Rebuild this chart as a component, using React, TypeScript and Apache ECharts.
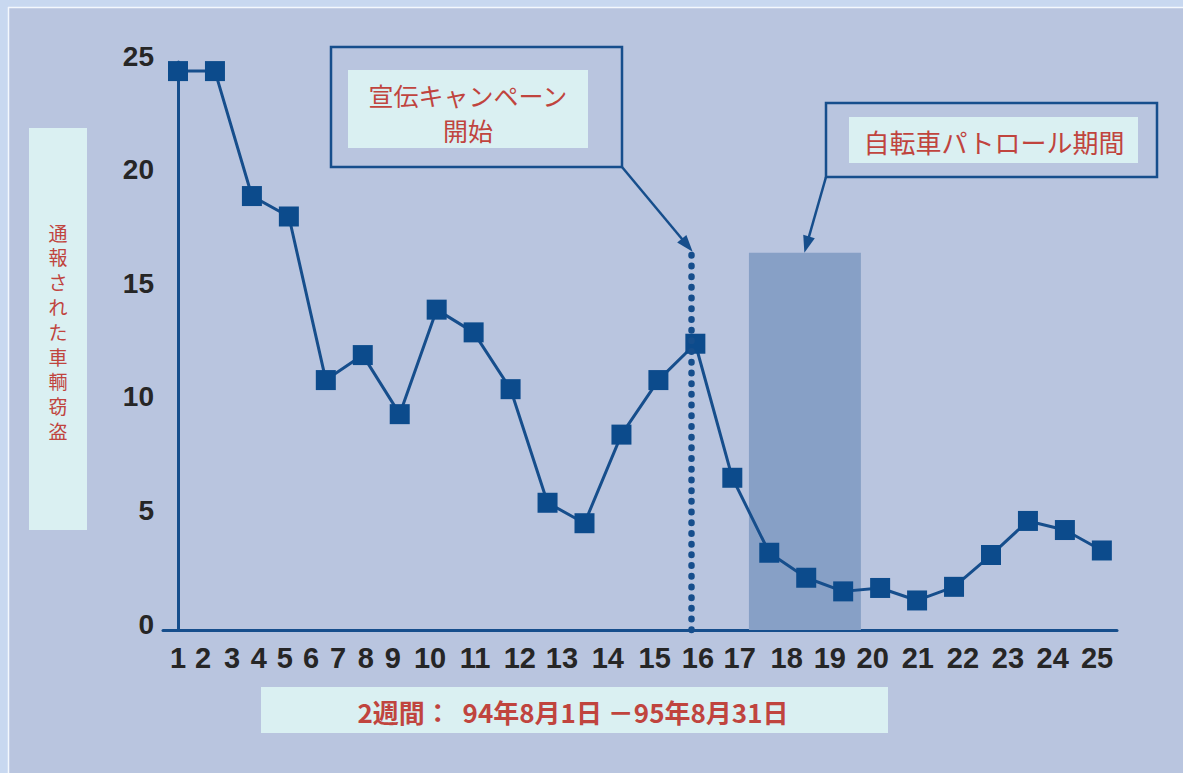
import React, { useEffect, useRef } from "react";
import * as echarts from "echarts";

// two-week periods (point index), reported vehicle thefts
const periodIndex = [0, 1, 2, 3, 4, 5, 6, 7, 8, 9, 10, 11, 12, 13, 14, 15, 16, 17, 18, 19, 20, 21, 22, 23, 24, 25];
const thefts = [24.6, 24.6, 19.1, 18.2, 11.0, 12.1, 9.5, 14.1, 13.1, 10.6, 5.6, 4.7, 8.6, 11.0, 12.6, 6.7, 3.4, 2.3, 1.7, 1.85, 1.3, 1.9, 3.3, 4.8, 4.4, 3.5];

// x tick labels and where they sit on the period scale
const xTickLabels = ["1", "2", "3", "4", "5", "6", "7", "8", "9", "10", "11", "12", "13", "14", "15", "16", "17", "18", "19", "20", "21", "22", "23", "24", "25"];
const xTickAt = [0, 0.68, 1.46, 2.19, 2.89, 3.6, 4.33, 5.08, 5.81, 6.82, 8.04, 9.25, 10.39, 11.63, 12.9, 14.07, 15.2, 16.47, 17.64, 18.8, 20.02, 21.24, 22.46, 23.67, 24.87];
const yTicks = [0, 5, 10, 15, 20, 25];

// annotations on the period scale
const campaignStart = 13.9;
const patrolRange = [15.45, 18.48];
const patrolArrowAt = 16.95;
const annotationTop = 16.6;

const title = "通報された車輌窃盗";
const xTitle = "2週間：  94年8月1日 －95年8月31日";
const campaignLabel = "宣伝キャンペーン\n開始";
const patrolLabel = "自転車パトロール期間";

const DARK = "#164e8c";
const RED = "#c0443e";
const PALE = "#daf0f2";
const JP = "'Noto Sans CJK JP', 'Noto Sans', sans-serif";
const NUM = "'Liberation Sans Narrow', 'Liberation Sans', Arial, sans-serif";

function arrow(x1: number, y1: number, x2: number, y2: number) {
  const dx = x2 - x1;
  const dy = y2 - y1;
  const L = Math.hypot(dx, dy);
  const ux = dx / L;
  const uy = dy / L;
  const hl = 17;
  const hw = 6;
  const bx = x2 - ux * hl;
  const by = y2 - uy * hl;
  const px = -uy;
  const py = ux;
  return [
    { type: "line", z: 20, shape: { x1, y1, x2: bx + ux * 2, y2: by + uy * 2 }, style: { stroke: DARK, lineWidth: 2.5 } },
    {
      type: "polygon",
      z: 20,
      shape: { points: [[x2, y2], [bx + px * hw, by + py * hw], [bx - px * hw, by - py * hw]] },
      style: { fill: DARK },
    },
  ];
}

export default function App() {
  const ref = useRef<HTMLDivElement>(null);

  useEffect(() => {
    document.body.style.margin = "0";
    const chart = echarts.init(ref.current!, null, { renderer: "svg" });
    const option: any = {
      animation: false,
      backgroundColor: "#b9c5df",
      grid: { left: 163, right: 66, top: 62, bottom: 143 },
      xAxis: {
        type: "value",
        min: -0.406,
        max: 25.41,
        splitLine: { show: false },
        axisTick: { show: false },
        axisLine: { show: true, onZero: false, lineStyle: { color: DARK, width: 3 } },
        axisLabel: {
          customValues: xTickAt,
          margin: 13,
          color: "#262626",
          fontFamily: NUM,
          fontWeight: "bold",
          fontSize: 29,
          formatter: (v: number) => {
            let best = 0;
            for (let i = 0; i < xTickAt.length; i++) {
              if (Math.abs(xTickAt[i] - v) < Math.abs(xTickAt[best] - v)) best = i;
            }
            return xTickLabels[best];
          },
        },
      },
      yAxis: {
        type: "value",
        min: yTicks[0],
        max: yTicks[yTicks.length - 1],
        interval: 5,
        splitLine: { show: false },
        axisTick: { show: false },
        axisLine: { show: true, lineStyle: { color: DARK, width: 3 } },
        axisLabel: {
          margin: 9,
          color: "#262626",
          fontFamily: NUM,
          fontWeight: "bold",
          fontSize: 28,
          verticalAlign: "bottom",
          lineHeight: 12,
        },
      },
      series: [
        {
          type: "line",
          z: 1,
          data: [],
          silent: true,
          markArea: {
            silent: true,
            itemStyle: { color: "#87a0c6", opacity: 1 },
            data: [[{ coord: [patrolRange[0], 0] }, { coord: [patrolRange[1], annotationTop] }]],
          },
          markLine: {
            silent: true,
            symbol: "none",
            label: { show: false },
            lineStyle: { color: DARK, width: 6.5, type: [0.5, 10.2], cap: "round" },
            data: [[{ coord: [campaignStart, 0] }, { coord: [campaignStart, annotationTop] }]],
          },
        },
        {
          type: "line",
          z: 3,
          data: periodIndex.map((p, i) => [p, thefts[i]]),
          symbol: "rect",
          symbolSize: 20,
          lineStyle: { color: DARK, width: 3 },
          itemStyle: { color: "#0c4b8c" },
        },
      ],
    };
    chart.setOption(option);

    const c = chart.convertToPixel({ gridIndex: 0 }, [campaignStart, annotationTop]) as number[];
    const p = chart.convertToPixel({ gridIndex: 0 }, [patrolArrowAt, annotationTop]) as number[];

    const titleChars = title.split("");
    const graphic: any[] = [
      // outer frame bands
      { type: "rect", z: 0, shape: { x: 0, y: 0, width: 1183, height: 7 }, style: { fill: "#c8d8f0" } },
      { type: "rect", z: 0, shape: { x: 0, y: 0, width: 8, height: 773 }, style: { fill: "#c8d8f0" } },
      { type: "line", z: 1, shape: { x1: 8, y1: 7.5, x2: 1183, y2: 7.5 }, style: { stroke: "#f4f8fd", lineWidth: 1.5 } },
      { type: "line", z: 1, shape: { x1: 8.5, y1: 7, x2: 8.5, y2: 773 }, style: { stroke: "#f4f8fd", lineWidth: 1.5 } },

      // y-axis title (vertical)
      { type: "rect", z: 5, shape: { x: 29, y: 128, width: 58, height: 402 }, style: { fill: PALE } },
      ...titleChars.map((ch, i) => ({
        type: "text",
        z: 6,
        style: {
          x: 58,
          y: 232 + i * 24.8,
          text: ch,
          align: "center",
          verticalAlign: "middle",
          fill: RED,
          fontSize: 19,
          lineHeight: 19,
          fontFamily: JP,
        },
      })),

      // x-axis title
      { type: "rect", z: 5, shape: { x: 261, y: 687, width: 627, height: 46 }, style: { fill: PALE } },
      {
        type: "text",
        z: 6,
        style: {
          x: 573,
          y: 711,
          text: xTitle,
          align: "center",
          verticalAlign: "middle",
          fill: RED,
          fontSize: 26,
          fontWeight: "bold",
          fontFamily: JP,
        },
      },

      // campaign box
      { type: "rect", z: 5, shape: { x: 331, y: 47, width: 291, height: 120 }, style: { fill: "none", stroke: DARK, lineWidth: 2.5 } },
      { type: "rect", z: 5, shape: { x: 348, y: 70, width: 240, height: 78 }, style: { fill: PALE } },
      {
        type: "text",
        z: 6,
        style: {
          x: 468,
          y: 112,
          text: campaignLabel,
          align: "center",
          verticalAlign: "middle",
          fill: RED,
          fontSize: 25,
          lineHeight: 35,
          fontFamily: JP,
        },
      },
      ...arrow(622, 167, c[0] + 1, c[1] - 1),

      // patrol box
      { type: "rect", z: 5, shape: { x: 826, y: 103, width: 331, height: 74 }, style: { fill: "none", stroke: DARK, lineWidth: 2.5 } },
      { type: "rect", z: 5, shape: { x: 849, y: 117, width: 289, height: 46 }, style: { fill: PALE } },
      {
        type: "text",
        z: 6,
        style: {
          x: 994,
          y: 141,
          text: patrolLabel,
          align: "center",
          verticalAlign: "middle",
          fill: RED,
          fontSize: 26,
          fontFamily: JP,
        },
      },
      ...arrow(826, 177, p[0], p[1]),
    ];
    chart.setOption({ graphic });

    return () => chart.dispose();
  }, []);

  return <div ref={ref} style={{ width: 1183, height: 773 }} />;
}
